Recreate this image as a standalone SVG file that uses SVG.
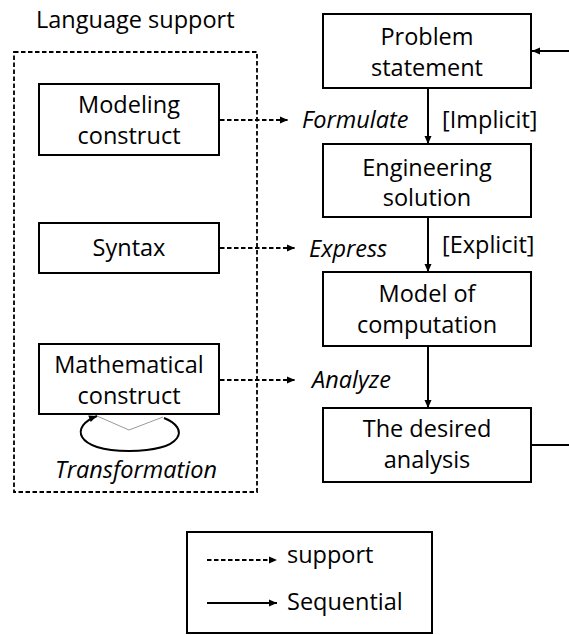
<svg xmlns="http://www.w3.org/2000/svg" width="569" height="635" viewBox="0 0 569 635">
  <style>
    .box { fill: #ffffff; stroke: #000000; stroke-width: 2; }
    .frame { fill: none; stroke: #000000; stroke-width: 1.8; stroke-dasharray: 4.5 2.5; }
    .txt { font-family: "Open Sans", "Noto Sans", "Liberation Sans", sans-serif; font-size: 23.5px; fill: #000000; }
    .mid { text-anchor: middle; }
    .it { font-style: italic; }
    .seq { fill: none; stroke: #000000; stroke-width: 2; }
    .sup { fill: none; stroke: #000000; stroke-width: 1.8; stroke-dasharray: 4.5 2.5; }
  </style>
  <defs>
    <marker id="head" markerUnits="userSpaceOnUse" markerWidth="10" markerHeight="10" viewBox="0 0 10 10" refX="9" refY="5" orient="auto">
      <path d="M1,1.5 L9,5 L1,8.5 Z" fill="#000000"/>
    </marker>
  </defs>

  <rect id="page" x="0" y="0" width="569" height="635" fill="#ffffff"/>

  <!-- Language support group -->
  <g id="language-support">
    <text class="txt" x="36" y="28">Language support</text>
    <rect class="frame" x="14" y="52" width="243" height="440"/>
  </g>

  <g id="modeling-construct">
    <rect class="box" x="39" y="84" width="180" height="71"/>
    <text class="txt mid" x="129" y="113">Modeling</text>
    <text class="txt mid" x="129" y="144">construct</text>
  </g>

  <g id="syntax">
    <rect class="box" x="39" y="223" width="180" height="50"/>
    <text class="txt mid" x="129" y="256">Syntax</text>
  </g>

  <g id="mathematical-construct">
    <rect class="box" x="39" y="344" width="180" height="70"/>
    <text class="txt mid" x="129" y="373">Mathematical</text>
    <text class="txt mid" x="129" y="404">construct</text>
  </g>

  <!-- Right column: sequential flow -->
  <g id="problem-statement">
    <rect class="box" x="323" y="14" width="208" height="74"/>
    <text class="txt mid" x="427" y="45">Problem</text>
    <text class="txt mid" x="427" y="76">statement</text>
  </g>

  <g id="engineering-solution">
    <rect class="box" x="323" y="144" width="208" height="73"/>
    <text class="txt mid" x="427" y="176">Engineering</text>
    <text class="txt mid" x="427" y="206">solution</text>
  </g>

  <g id="model-of-computation">
    <rect class="box" x="323" y="272" width="208" height="74"/>
    <text class="txt mid" x="427" y="302">Model of</text>
    <text class="txt mid" x="427" y="333">computation</text>
  </g>

  <g id="desired-analysis">
    <rect class="box" x="323" y="408" width="208" height="74"/>
    <text class="txt mid" x="427" y="437">The desired</text>
    <text class="txt mid" x="427" y="468">analysis</text>
  </g>

  <!-- Connectors -->
  <g id="connectors">
    <!-- support links -->
    <line class="sup" x1="220" y1="120" x2="288" y2="120" marker-end="url(#head)"/>
    <line class="sup" x1="220" y1="248" x2="295" y2="248" marker-end="url(#head)"/>
    <line class="sup" x1="220" y1="380" x2="295" y2="380" marker-end="url(#head)"/>

    <!-- sequential links -->
    <line class="seq" x1="428" y1="89" x2="428" y2="144" marker-end="url(#head)"/>
    <line class="seq" x1="428" y1="218" x2="428" y2="272" marker-end="url(#head)"/>
    <line class="seq" x1="428" y1="347" x2="428" y2="408" marker-end="url(#head)"/>

    <!-- feedback loop to the problem statement -->
    <line class="seq" x1="532" y1="445" x2="569" y2="445"/>
    <line class="seq" x1="569" y1="51" x2="532" y2="51" marker-end="url(#head)"/>

    <!-- transformation self-loop -->
    <polyline points="97,416 129,430 163,417" fill="none" stroke="#999999" stroke-width="1"/>
    <path class="seq" d="M164,418 C190,428 184,451 129,451 C74,451 70,426 97,416" marker-end="url(#head)"/>
  </g>

  <!-- Edge labels -->
  <g id="labels">
    <text class="txt it" x="302" y="128">Formulate</text>
    <text class="txt it" x="309" y="257">Express</text>
    <text class="txt it" x="312" y="388">Analyze</text>
    <text class="txt" x="442" y="128">[Implicit]</text>
    <text class="txt" x="442" y="253">[Explicit]</text>
    <text class="txt it mid" x="136" y="478">Transformation</text>
  </g>

  <!-- Legend -->
  <g id="legend">
    <rect class="box" x="187" y="532" width="245" height="101"/>
    <line class="sup" x1="207" y1="560" x2="277" y2="560" marker-end="url(#head)"/>
    <text class="txt" x="287" y="563">support</text>
    <line class="seq" x1="207" y1="603" x2="277" y2="603" marker-end="url(#head)"/>
    <text class="txt" x="287" y="610">Sequential</text>
  </g>
</svg>
